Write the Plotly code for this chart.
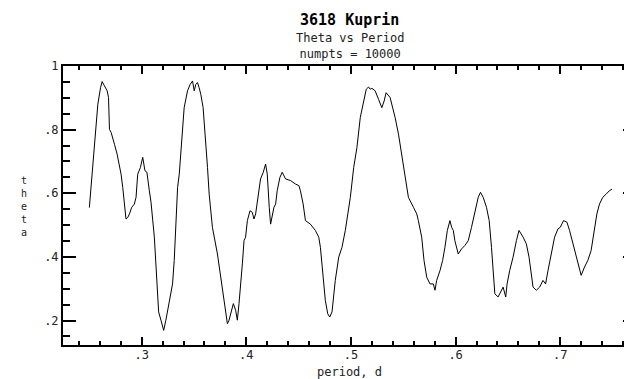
import plotly.graph_objects as go

# period (d) and theta values
period = [0.2500, 0.2533, 0.2555, 0.2581, 0.2607, 0.2622, 0.2645, 0.2670, 0.2683, 0.2692,
          0.2708, 0.2724, 0.2740, 0.2765, 0.2781, 0.2803, 0.2819, 0.2835, 0.2850, 0.2867,
          0.2883, 0.2905, 0.2930, 0.2946, 0.2962, 0.2988, 0.3010, 0.3031, 0.3050, 0.3073,
          0.3089, 0.3121, 0.3136, 0.3152, 0.3162, 0.3184, 0.3210, 0.3231, 0.3248, 0.3279,
          0.3295, 0.3311, 0.3327, 0.3343, 0.3359, 0.3381, 0.3406, 0.3438, 0.3463, 0.3486,
          0.3502, 0.3517, 0.3533, 0.3549, 0.3565, 0.3587, 0.3612, 0.3629, 0.3645, 0.3660,
          0.3676, 0.3724, 0.3755, 0.3778, 0.3803, 0.3819, 0.3835, 0.3851, 0.3876, 0.3898,
          0.3914, 0.3930, 0.3946, 0.3962, 0.3978, 0.3993, 0.4010, 0.4035, 0.4057, 0.4073,
          0.4089, 0.4105, 0.4121, 0.4136, 0.4162, 0.4184, 0.4200, 0.4206, 0.4219, 0.4232,
          0.4248, 0.4264, 0.4280, 0.4295, 0.4321, 0.4343, 0.4375, 0.4422, 0.4470, 0.4502,
          0.4517, 0.4543, 0.4565, 0.4612, 0.4660, 0.4692, 0.4708, 0.4724, 0.4740, 0.4755,
          0.4778, 0.4797, 0.4819, 0.4835, 0.4850, 0.4883, 0.4914, 0.4946, 0.4962, 0.4994,
          0.5026, 0.5057, 0.5089, 0.5121, 0.5146, 0.5168, 0.5184, 0.5200, 0.5231, 0.5264,
          0.5295, 0.5317, 0.5336, 0.5374, 0.5400, 0.5422, 0.5454, 0.5486, 0.5517, 0.5549,
          0.5597, 0.5629, 0.5644, 0.5676, 0.5698, 0.5724, 0.5755, 0.5787, 0.5803, 0.5819,
          0.5851, 0.5876, 0.5898, 0.5921, 0.5946, 0.5962, 0.5978, 0.5993, 0.6025, 0.6057,
          0.6089, 0.6121, 0.6152, 0.6184, 0.6216, 0.6238, 0.6264, 0.6295, 0.6321, 0.6343,
          0.6359, 0.6375, 0.6406, 0.6438, 0.6454, 0.6479, 0.6492, 0.6517, 0.6549, 0.6581,
          0.6606, 0.6645, 0.6676, 0.6702, 0.6740, 0.6771, 0.6803, 0.6835, 0.6860, 0.6883,
          0.6914, 0.6946, 0.6978, 0.7000, 0.7032, 0.7064, 0.7089, 0.7121, 0.7152, 0.7178,
          0.7200, 0.7232, 0.7264, 0.7295, 0.7327, 0.7350, 0.7375, 0.7406, 0.7438, 0.7470,
          0.7495]
theta = [0.555, 0.681, 0.786, 0.880, 0.932, 0.951, 0.937, 0.922, 0.901, 0.801,
         0.791, 0.775, 0.754, 0.723, 0.697, 0.660, 0.618, 0.556, 0.519, 0.524,
         0.535, 0.556, 0.566, 0.587, 0.660, 0.681, 0.713, 0.671, 0.666, 0.608,
         0.572, 0.462, 0.378, 0.315, 0.227, 0.201, 0.169, 0.201, 0.232, 0.295,
         0.315, 0.389, 0.493, 0.618, 0.660, 0.765, 0.869, 0.922, 0.942, 0.953,
         0.922, 0.942, 0.948, 0.932, 0.911, 0.869, 0.765, 0.681, 0.597, 0.535,
         0.493, 0.409, 0.336, 0.274, 0.211, 0.190, 0.201, 0.221, 0.253, 0.232,
         0.201, 0.253, 0.305, 0.378, 0.451, 0.462, 0.514, 0.545, 0.540, 0.519,
         0.535, 0.577, 0.608, 0.645, 0.666, 0.692, 0.660, 0.608, 0.556, 0.503,
         0.535, 0.556, 0.566, 0.608, 0.650, 0.666, 0.645, 0.640, 0.629, 0.624,
         0.608, 0.566, 0.514, 0.503, 0.483, 0.462, 0.430, 0.378, 0.305, 0.263,
         0.221, 0.211, 0.227, 0.274, 0.326, 0.399, 0.430, 0.483, 0.514, 0.587,
         0.681, 0.744, 0.838, 0.890, 0.927, 0.934, 0.927, 0.930, 0.922, 0.895,
         0.869, 0.890, 0.916, 0.901, 0.869, 0.838, 0.786, 0.723, 0.660, 0.587,
         0.556, 0.535, 0.514, 0.462, 0.389, 0.336, 0.315, 0.315, 0.295, 0.326,
         0.357, 0.389, 0.430, 0.483, 0.514, 0.493, 0.483, 0.451, 0.409, 0.425,
         0.436, 0.451, 0.493, 0.545, 0.587, 0.603, 0.587, 0.556, 0.514, 0.430,
         0.357, 0.284, 0.274, 0.295, 0.305, 0.274, 0.315, 0.357, 0.399, 0.451,
         0.483, 0.462, 0.441, 0.399, 0.305, 0.295, 0.305, 0.326, 0.315, 0.357,
         0.409, 0.462, 0.488, 0.493, 0.514, 0.509, 0.483, 0.441, 0.409, 0.368,
         0.342, 0.368, 0.389, 0.420, 0.483, 0.535, 0.566, 0.587, 0.597, 0.608,
         0.613]

x_tickvals = [0.3, 0.4, 0.5, 0.6, 0.7]
x_ticktext = [".3", ".4", ".5", ".6", ".7"]
y_tickvals = [0.2, 0.4, 0.6, 0.8, 1.0]
y_ticktext = [".2", ".4", ".6", ".8", "1"]

title_text = "3618 Kuprin"
subtitle_lines = ["Theta vs Period", "numpts = 10000"]
x_label = "period, d"
y_label = "theta"

FONT = "DejaVu Sans Mono"
TXT = "#222222"

TOP, BOTTOM = 58, 337

fig = go.Figure()
fig.add_trace(go.Scatter(x=period, y=theta, mode="lines",
                         line=dict(color="black", width=1), showlegend=False))

fig.update_layout(
    width=632, height=379,
    margin=dict(l=55, r=2, t=TOP, b=379 - BOTTOM),
    paper_bgcolor="white", plot_bgcolor="white",
    font=dict(family=FONT, size=12, color=TXT),
)
fig.update_xaxes(
    range=[0.2248, 0.7724], showgrid=False, zeroline=False,
    showline=True, linecolor="black", linewidth=2, mirror="allticks",
    ticks="inside", ticklen=8, tickwidth=1.5, tickcolor="black",
    tickvals=x_tickvals, ticktext=x_ticktext, ticklabelstandoff=-2,
    tickfont=dict(family=FONT, size=12, color=TXT),
    minor=dict(tick0=0, dtick=0.02, ticks="inside", ticklen=4,
               tickwidth=1.5, tickcolor="black", showgrid=False),
)
fig.update_yaxes(
    range=[0.123, 1.0], showgrid=False, zeroline=False,
    showline=True, linecolor="black", linewidth=2, mirror="allticks",
    ticks="inside", ticklen=13, tickwidth=2, tickcolor="black",
    tickvals=y_tickvals, ticktext=y_ticktext,
    tickfont=dict(family=FONT, size=12, color=TXT),
    minor=dict(tick0=0, dtick=0.05, ticks="inside", ticklen=7,
               tickwidth=2, tickcolor="black", showgrid=False),
)

H = BOTTOM - TOP


def py(pix):
    return (BOTTOM - pix) / H


anns = [
    dict(text="<b>" + title_text + "</b>", x=0.5, y=py(12),
         font=dict(family=FONT, size=15, color="black")),
    dict(text="<br>".join(subtitle_lines), x=0.5, y=py(38),
         font=dict(family=FONT, size=12, color=TXT)),
    dict(text=x_label, x=0.5, y=py(364),
         font=dict(family=FONT, size=12, color=TXT)),
    dict(text="<br>".join(list(y_label)), x=(16 - 55) / 575.0, y=py(198),
         font=dict(family=FONT, size=10, color=TXT)),
]
for a in anns:
    a.update(xref="paper", yref="paper", showarrow=False,
             xanchor="center", yanchor="middle")
fig.update_layout(annotations=anns)

fig.write_html("out.html")
